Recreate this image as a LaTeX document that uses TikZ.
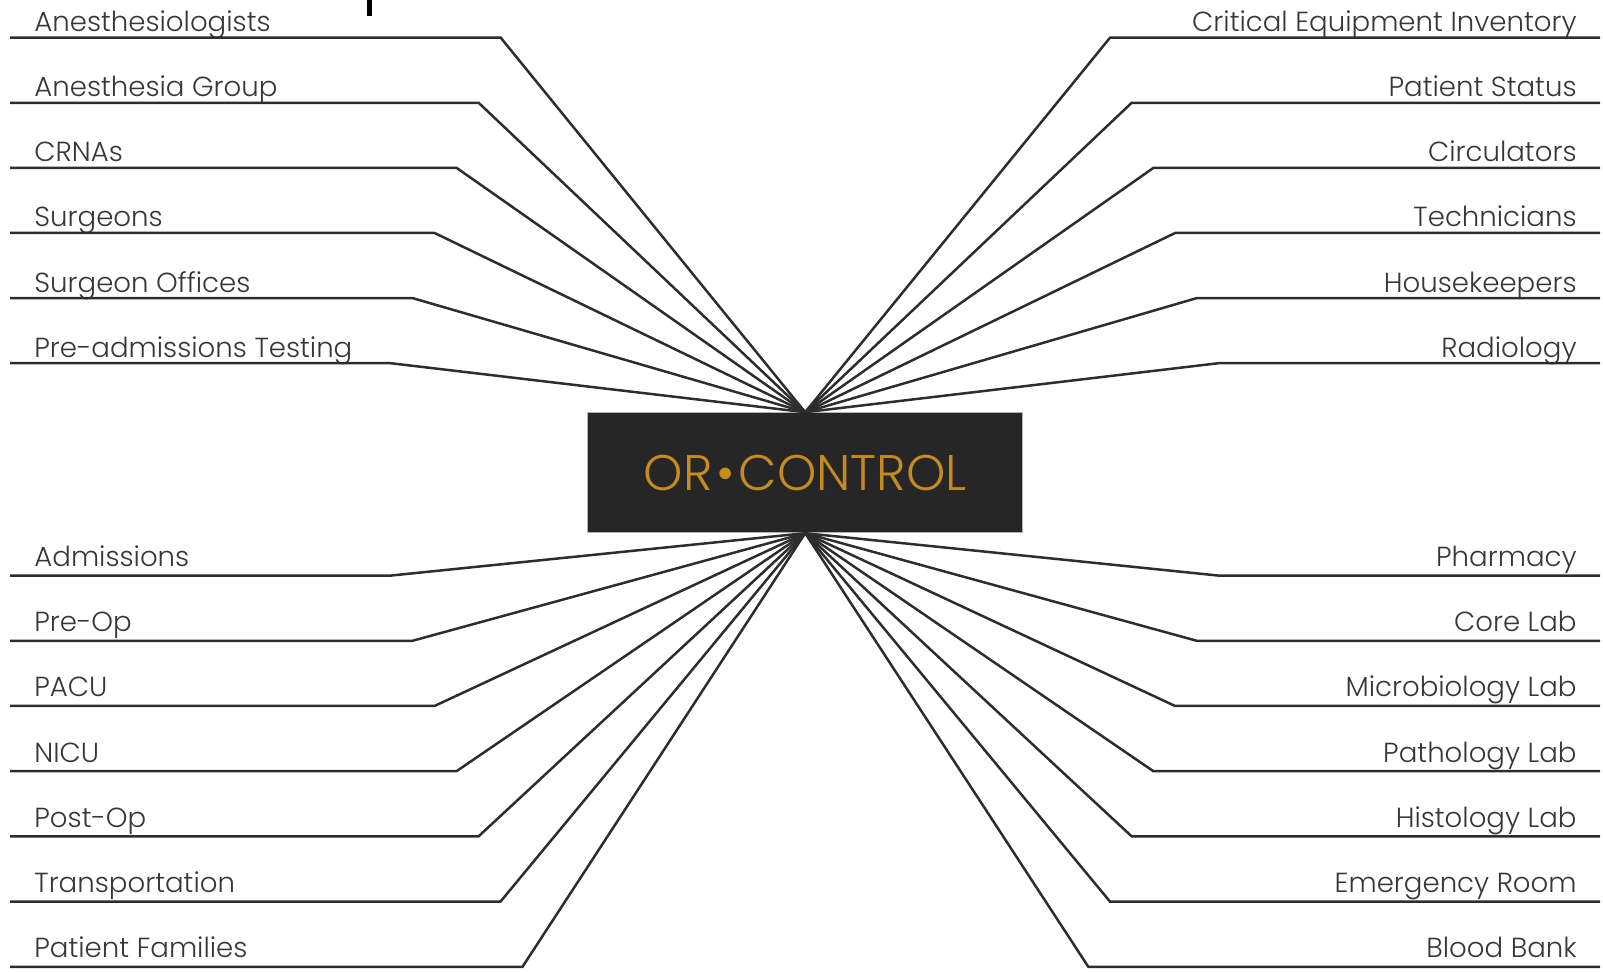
\documentclass[tikz,border=0pt]{standalone}
\usepackage{fontspec}
\setmainfont{Poppins Light}
\definecolor{ctrlfill}{RGB}{38,38,38}
\definecolor{ctrlgold}{RGB}{196,140,32}
\definecolor{wiregray}{RGB}{45,45,45}
\definecolor{lblgray}{RGB}{55,55,55}

\begin{document}
\begin{tikzpicture}[x=0.5pt,y=-0.5pt]
    % Style definitions
    \tikzset{
      wire/.style={draw=wiregray, line width=1.25pt},
      lbl/.style={font=\fontsize{13.8}{16}\selectfont, text=lblgray, inner sep=0pt},
      hub/.style={fill=ctrlfill, draw=black!30, line width=0.5pt,
        minimum width=217.5pt, minimum height=60pt, inner sep=0pt,
        font=\fontsize{25}{28}\selectfont, text=ctrlgold},
    }
    \useasboundingbox (0,0) rectangle (1603,972);

    % cut-off title glyph at the top edge
    \fill[black] (367,0) rectangle (372,16);

    % ------------------------------------------------------------------
    % Central hub: every wire meets its top or bottom midpoint
    % ------------------------------------------------------------------
    \node[hub] (ctrl) at (805.2,472.7) {OR\kern2pt•\kern2pt CONTROL};

    % Upper left: row i at y = 37.7 + 65.1 i, bend moving inwards
    \foreach \name [count=\i from 0] in {Anesthesiologists, Anesthesia Group,
        CRNAs, Surgeons, Surgeon Offices, Pre-admissions Testing}{%
      \pgfmathsetmacro{\ry}{37.7+65.1*\i}
      \pgfmathsetmacro{\bx}{500.7-22.04*\i}
      \coordinate (ul\i) at (10,\ry);
      \coordinate (ulb\i) at (\bx,\ry);
      \node[lbl, anchor=base west] (ulname\i) at (34,\ry-6) {\name};
      \draw[wire] (ul\i) -- (ulb\i) -- (ctrl.north);
    }

    % Upper right: mirror of the left side
    \foreach \name [count=\i from 0] in {Critical Equipment Inventory,
        Patient Status, Circulators, Technicians, Housekeepers, Radiology}{%
      \pgfmathsetmacro{\ry}{37.7+65.1*\i}
      \pgfmathsetmacro{\bx}{1110+21.7*\i}
      \coordinate (ur\i) at (1600,\ry);
      \coordinate (urb\i) at (\bx,\ry);
      \node[lbl, anchor=base east] (urname\i) at (1577,\ry-6) {\name};
      \draw[wire] (ur\i) -- (urb\i) -- (ctrl.north);
    }

    % Lower left: row j at y = 575.6 + 65.2 j, bend moving outwards
    \foreach \name [count=\j from 0] in {Admissions, Pre-Op, PACU, NICU,
        Post-Op, Transportation, Patient Families}{%
      \pgfmathsetmacro{\ry}{575.6+65.2*\j}
      \pgfmathsetmacro{\bx}{390.5+22*\j}
      \coordinate (ll\j) at (10,\ry);
      \coordinate (llb\j) at (\bx,\ry);
      \node[lbl, anchor=base west] (llname\j) at (34,\ry-9) {\name};
      \draw[wire] (ll\j) -- (llb\j) -- (ctrl.south);
    }

    % Lower right
    \foreach \name [count=\j from 0] in {Pharmacy, Core Lab, Microbiology Lab,
        Pathology Lab, Histology Lab, Emergency Room, Blood Bank}{%
      \pgfmathsetmacro{\ry}{575.6+65.2*\j}
      \pgfmathsetmacro{\bx}{1218.5-21.7*\j}
      \coordinate (lr\j) at (1600,\ry);
      \coordinate (lrb\j) at (\bx,\ry);
      \node[lbl, anchor=base east] (lrname\j) at (1577,\ry-9) {\name};
      \draw[wire] (lr\j) -- (lrb\j) -- (ctrl.south);
    }
\end{tikzpicture}
\end{document}
